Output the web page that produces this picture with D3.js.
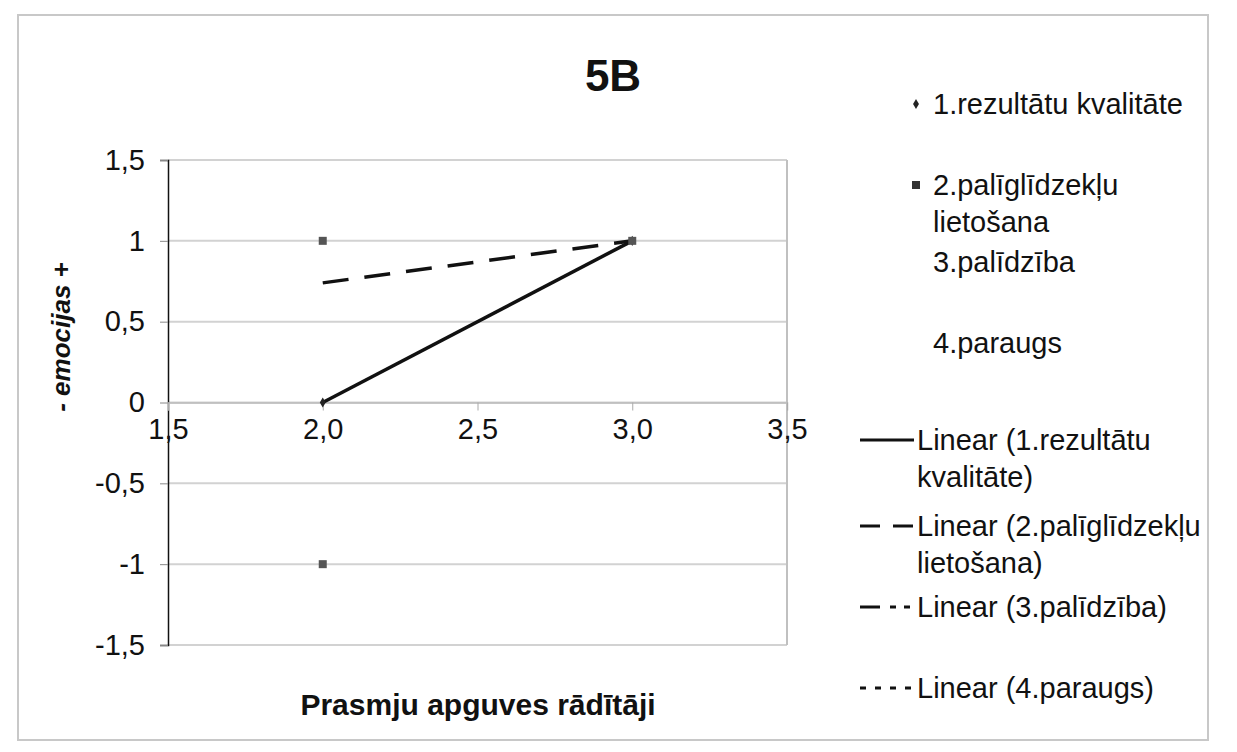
<!DOCTYPE html>
<html><head><meta charset="utf-8">
<script src="https://cdn.jsdelivr.net/npm/d3@7"></script>
<style>body{margin:0;background:#fff;} svg{display:block;} text{font-family:"Liberation Sans",Arial,sans-serif;fill:#111;}</style>
</head><body>
<script>
const title = "5B";
const xTitle = "Prasmju apguves rādītāji";
const yTitle = "- emocijas +";
const xTicks = [1.5, 2.0, 2.5, 3.0, 3.5];
const yTicks = [-1.5, -1, -0.5, 0, 0.5, 1, 1.5];
const seriesNames = ["1.rezultātu kvalitāte", "2.palīglīdzekļu lietošana", "3.palīdzība", "4.paraugs"];
const series1X = [2, 3];
const series1Y = [0, 1];
const series2X = [2, 3, 2];
const series2Y = [1, 1, -1];
const trend1X = [2, 3];
const trend1Y = [0, 1];
const trend2X = [2, 3];
const trend2Y = [0.74, 1];
const legendLines = [
  ["1.rezultātu kvalitāte"],
  ["2.palīglīdzekļu", "lietošana"],
  ["3.palīdzība"],
  ["4.paraugs"],
  ["Linear (1.rezultātu", "kvalitāte)"],
  ["Linear (2.palīglīdzekļu", "lietošana)"],
  ["Linear (3.palīdzība)"],
  ["Linear (4.paraugs)"]
];

const W = 1237, H = 752;
const svg = d3.select("body").append("svg").attr("width", W).attr("height", H);
// outer chart border
svg.append("rect").attr("x", 18).attr("y", 15).attr("width", 1190).attr("height", 725)
  .attr("fill", "none").attr("stroke", "#c8c8c8").attr("stroke-width", 2);

const x = d3.scaleLinear().domain([1.5, 3.5]).range([168, 787]);
const y = d3.scaleLinear().domain([-1.5, 1.5]).range([645, 160]);
const fmt = v => d3.format(".1f")(v).replace(".", ",");
const fmtY = v => String(v).replace(".", ",");
const FONT = "Liberation Sans, Arial, sans-serif";

// gridlines
svg.append("g").selectAll("line").data(yTicks).join("line")
  .attr("x1", x(1.5)).attr("x2", x(3.5)).attr("y1", d => y(d)).attr("y2", d => y(d))
  .attr("stroke", "#d2d2d2").attr("stroke-width", 2);
// plot right border
svg.append("line").attr("x1", x(3.5)).attr("x2", x(3.5)).attr("y1", y(1.5)).attr("y2", y(-1.5))
  .attr("stroke", "#c0c0c0").attr("stroke-width", 2);

// y axis
const yAxis = d3.axisLeft(y).tickValues(yTicks).tickSize(8).tickPadding(15).tickFormat(fmtY);
const gy = svg.append("g").attr("transform", `translate(${x(1.5)},0)`).call(yAxis);
gy.select(".domain").attr("stroke", "#111").attr("stroke-width", 1.5);
gy.selectAll(".tick line").attr("stroke", "#888");
gy.selectAll(".tick text").attr("font-size", 29).attr("fill", "#111").attr("font-family", FONT);

// x axis crossing at y=0
const xAxis = d3.axisBottom(x).tickValues(xTicks).tickSize(8).tickPadding(8).tickFormat(fmt);
const gx = svg.append("g").attr("transform", `translate(0,${y(0)})`).call(xAxis);
gx.select(".domain").attr("stroke", "#bbb").attr("stroke-width", 1.5);
gx.selectAll(".tick line").attr("stroke", "#aaa");
gx.selectAll(".tick text").attr("font-size", 29).attr("fill", "#111").attr("font-family", FONT);

// trend lines
const line = d3.line().x(d => x(d[0])).y(d => y(d[1]));
svg.append("path").datum(trend1X.map((v, i) => [v, trend1Y[i]])).attr("d", line)
  .attr("fill", "none").attr("stroke", "#111").attr("stroke-width", 3.5);
svg.append("path").datum(trend2X.map((v, i) => [v, trend2Y[i]])).attr("d", line)
  .attr("fill", "none").attr("stroke", "#111").attr("stroke-width", 3.5).attr("stroke-dasharray", "26,16");

// markers
svg.append("g").selectAll("path").data(series1X.map((v, i) => [v, series1Y[i]])).join("path")
  .attr("transform", d => `translate(${x(d[0])},${y(d[1])})`)
  .attr("d", d3.symbol(d3.symbolDiamond, 30)).attr("fill", "#222");
svg.append("g").selectAll("rect").data(series2X.map((v, i) => [v, series2Y[i]])).join("rect")
  .attr("x", d => x(d[0]) - 4).attr("y", d => y(d[1]) - 4).attr("width", 8).attr("height", 8)
  .attr("fill", "#555");

// titles
svg.append("text").attr("x", 613).attr("y", 91).attr("text-anchor", "middle")
  .attr("font-size", 44).attr("font-weight", "bold").text(title);
svg.append("text").attr("x", 478).attr("y", 715).attr("text-anchor", "middle")
  .attr("font-size", 30).attr("font-weight", "bold").text(xTitle);
svg.append("text").attr("transform", "translate(70,337) rotate(-90)").attr("text-anchor", "middle")
  .attr("font-size", 26).attr("font-weight", "bold").attr("font-style", "italic").text(yTitle);

// legend
const legY = [104, 185, 262, 343, 440, 526, 607, 688];
const lg = svg.append("g");
legendLines.forEach((lines, i) => {
  lines.forEach((t, j) => {
    lg.append("text").attr("x", i < 4 ? 933 : 917).attr("y", legY[i] + j * 37 + 10)
      .attr("font-size", 29).text(t);
  });
});
lg.append("path").attr("transform", `translate(916,${legY[0]})`)
  .attr("d", d3.symbol(d3.symbolDiamond, 30)).attr("fill", "#222");
lg.append("rect").attr("x", 912).attr("y", legY[1] - 4).attr("width", 8).attr("height", 8).attr("fill", "#333");
const dashes = [null, "20,13", "20,10,6,8,6,8", "6,9"];
dashes.forEach((d, i) => {
  const l = lg.append("line").attr("x1", 860).attr("x2", 914)
    .attr("y1", legY[4 + i]).attr("y2", legY[4 + i])
    .attr("stroke", "#111").attr("stroke-width", 3);
  if (d) l.attr("stroke-dasharray", d);
});
</script>
</body></html>
